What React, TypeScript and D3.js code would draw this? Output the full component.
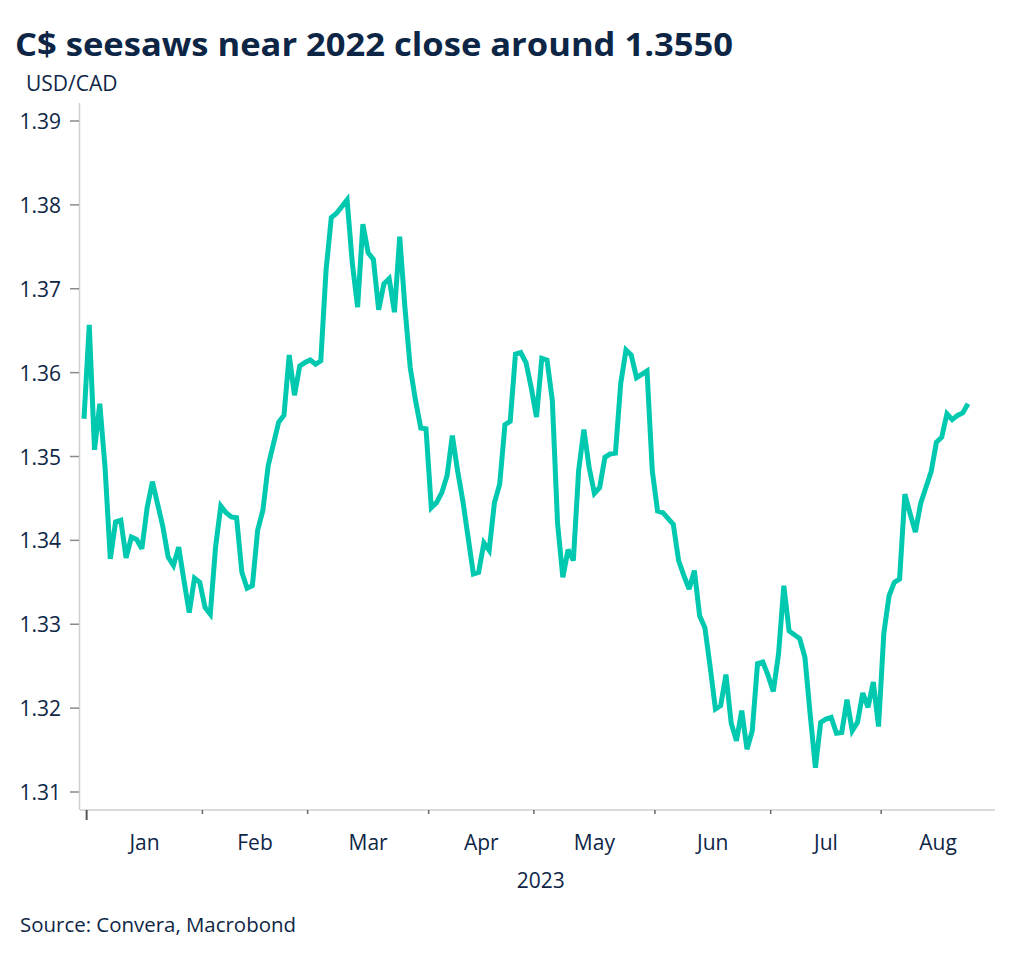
import React from "react";
import * as d3 from "d3";

// USD/CAD daily closes (business days), end-2022 through late August 2023
const obsDates: string[] = [
  "2022-12-30", "2023-01-02", "2023-01-03", "2023-01-04", "2023-01-05", "2023-01-06",
  "2023-01-09", "2023-01-10", "2023-01-11", "2023-01-12", "2023-01-13",
  "2023-01-16", "2023-01-17", "2023-01-18", "2023-01-20",
  "2023-01-23", "2023-01-24", "2023-01-25", "2023-01-26", "2023-01-27",
  "2023-01-30", "2023-01-31", "2023-02-01", "2023-02-02", "2023-02-03",
  "2023-02-06", "2023-02-07", "2023-02-08", "2023-02-09", "2023-02-10",
  "2023-02-13", "2023-02-14", "2023-02-15", "2023-02-16", "2023-02-17",
  "2023-02-20", "2023-02-21", "2023-02-22", "2023-02-23", "2023-02-24",
  "2023-02-27", "2023-02-28", "2023-03-01", "2023-03-02", "2023-03-03",
  "2023-03-06", "2023-03-07", "2023-03-08", "2023-03-10",
  "2023-03-13", "2023-03-14", "2023-03-15", "2023-03-16", "2023-03-17",
  "2023-03-20", "2023-03-21", "2023-03-22", "2023-03-23", "2023-03-24",
  "2023-03-27", "2023-03-28", "2023-03-29", "2023-03-30", "2023-03-31",
  "2023-04-03", "2023-04-04", "2023-04-05", "2023-04-06", "2023-04-07",
  "2023-04-10", "2023-04-11", "2023-04-13", "2023-04-14",
  "2023-04-17", "2023-04-18", "2023-04-19", "2023-04-20", "2023-04-21",
  "2023-04-24", "2023-04-25", "2023-04-26", "2023-04-27", "2023-04-28",
  "2023-05-01", "2023-05-02", "2023-05-03", "2023-05-04", "2023-05-05",
  "2023-05-08", "2023-05-09", "2023-05-10", "2023-05-11", "2023-05-12",
  "2023-05-15", "2023-05-16", "2023-05-17", "2023-05-18", "2023-05-19",
  "2023-05-22", "2023-05-23", "2023-05-24", "2023-05-25", "2023-05-26",
  "2023-05-29", "2023-05-30", "2023-05-31", "2023-06-01", "2023-06-02",
  "2023-06-06", "2023-06-07", "2023-06-08", "2023-06-09",
  "2023-06-12", "2023-06-13", "2023-06-14", "2023-06-15", "2023-06-16",
  "2023-06-19", "2023-06-20", "2023-06-21", "2023-06-22", "2023-06-23",
  "2023-06-26", "2023-06-27", "2023-06-28", "2023-06-29", "2023-06-30",
  "2023-07-03", "2023-07-04", "2023-07-05", "2023-07-06",
  "2023-07-10", "2023-07-11", "2023-07-12", "2023-07-13", "2023-07-14",
  "2023-07-17", "2023-07-18", "2023-07-19", "2023-07-20", "2023-07-21",
  "2023-07-24", "2023-07-25", "2023-07-26", "2023-07-27", "2023-07-28",
  "2023-07-31", "2023-08-01", "2023-08-02", "2023-08-03", "2023-08-04",
  "2023-08-07", "2023-08-08", "2023-08-09", "2023-08-10", "2023-08-11",
  "2023-08-14", "2023-08-15", "2023-08-16", "2023-08-17", "2023-08-18",
  "2023-08-21", "2023-08-22", "2023-08-23",
];

const usdcad: number[] = [
  1.3545, 1.3657, 1.3508, 1.3563, 1.3487, 1.3378,
  1.3422, 1.3424, 1.3379, 1.3404, 1.3401,
  1.3390, 1.3439, 1.3470, 1.3416,
  1.3380, 1.3370, 1.3392, 1.3352, 1.3314,
  1.3355, 1.3350, 1.3320, 1.3312, 1.3392,
  1.3441, 1.3433, 1.3428, 1.3427, 1.3362,
  1.3343, 1.3346, 1.3412, 1.3436, 1.3489,
  1.3515, 1.3541, 1.3549, 1.3621, 1.3573,
  1.3608, 1.3612, 1.3615, 1.3610, 1.3614,
  1.3722, 1.3785, 1.3790, 1.3806,
  1.3730, 1.3678, 1.3777, 1.3743, 1.3735,
  1.3675, 1.3706, 1.3712, 1.3672, 1.3762,
  1.3677, 1.3606, 1.3567, 1.3534, 1.3533,
  1.3439, 1.3445, 1.3457, 1.3477, 1.3525,
  1.3483, 1.3447, 1.3360, 1.3362,
  1.3397, 1.3388, 1.3445, 1.3467, 1.3538,
  1.3542, 1.3622, 1.3624, 1.3612, 1.3582,
  1.3547, 1.3617, 1.3615, 1.3567, 1.3420,
  1.3356, 1.3389, 1.3376, 1.3483, 1.3532,
  1.3487, 1.3456, 1.3463, 1.3499, 1.3503,
  1.3504, 1.3587, 1.3627, 1.3621, 1.3594,
  1.3598, 1.3602, 1.3483, 1.3435, 1.3433,
  1.3419, 1.3376, 1.3358, 1.3342,
  1.3364, 1.3310, 1.3296, 1.3249, 1.3199,
  1.3203, 1.3240, 1.3182, 1.3161, 1.3197,
  1.3151, 1.3173, 1.3253, 1.3255, 1.3239,
  1.3220, 1.3265, 1.3346, 1.3292,
  1.3283, 1.3261, 1.3193, 1.3129, 1.3183,
  1.3187, 1.3189, 1.3170, 1.3171, 1.3210,
  1.3173, 1.3183, 1.3218, 1.3201, 1.3231,
  1.3178, 1.3289, 1.3334, 1.3350, 1.3354,
  1.3455, 1.3432, 1.3410, 1.3444, 1.3463,
  1.3482, 1.3517, 1.3523, 1.3551, 1.3544,
  1.3549, 1.3552, 1.3563,
];

const yTicks: number[] = [1.31, 1.32, 1.33, 1.34, 1.35, 1.36, 1.37, 1.38, 1.39];
const monthLabels: string[] = ["Jan", "Feb", "Mar", "Apr", "May", "Jun", "Jul", "Aug"];
const yearLabel = "2023";
const titleText = "C$ seesaws near 2022 close around 1.3550";
const unitText = "USD/CAD";
const sourceText = "Source: Convera, Macrobond";

const WIDTH = 1024;
const HEIGHT = 958;
const FONT = "'Open Sans', 'Noto Sans', sans-serif";
const NAVY = "#0e2646";
const LINE = "#00c9b0";

const parseDay = (s: string) => {
  const [y, m, d] = s.split("-").map(Number);
  return new Date(Date.UTC(y, m - 1, d));
};
const dayKey = (d: Date) => d.toISOString().slice(0, 10);

// Weekday calendar spanning the series; the x axis counts trading days
const calStart = parseDay(obsDates[0]);
const calEnd = parseDay(obsDates[obsDates.length - 1]);
const calendar: Date[] = d3.utcDays(calStart, d3.utcDay.offset(calEnd, 1)).filter((d) => {
  const wd = d.getUTCDay();
  return wd !== 0 && wd !== 6;
});
const dayIndex = new Map<string, number>(calendar.map((d, i) => [dayKey(d), i]));

// First trading day of each calendar month of 2023
const monthStarts: number[] = [];
calendar.forEach((d, i) => {
  if (i > 0 && d.getUTCMonth() !== calendar[i - 1].getUTCMonth()) monthStarts.push(i);
});

const series = obsDates.map((s, i) => ({ idx: dayIndex.get(s) as number, value: usdcad[i] }));

export default function App() {
  const plotLeft = 80;
  const plotRight = 995;
  const axisY = 810;

  const x = d3.scaleLinear().domain([0, calendar.length - 1]).range([84, 968]);
  const y = d3.scaleLinear().domain([1.31, 1.39]).range([792, 121]);

  const path = d3
    .line<{ idx: number; value: number }>()
    .x((d) => x(d.idx))
    .y((d) => y(d.value))(series) as string;

  const tickX = monthStarts.map((i) => x(i - 0.5));
  const labelX = tickX.map((t, i) => (t + (i + 1 < tickX.length ? tickX[i + 1] : plotRight)) / 2);

  return (
    <svg
      width={WIDTH}
      height={HEIGHT}
      style={{ position: "absolute", left: 0, top: 0, background: "#fff" }}
      fontFamily={FONT}
    >
      <rect x={0} y={0} width={WIDTH} height={HEIGHT} fill="#fff" />
      <text x={15} y={56} fontSize={32} fontWeight={700} fill={NAVY} textLength={718} lengthAdjust="spacingAndGlyphs">
        {titleText}
      </text>
      <text x={26} y={91} fontSize={21} fill={NAVY}>
        {unitText}
      </text>

      {/* y axis */}
      <line x1={79.5} x2={79.5} y1={103} y2={axisY} stroke="#cfcfcf" strokeWidth={1.5} />
      {yTicks.map((t) => (
        <g key={t}>
          <line x1={70} x2={79} y1={y(t)} y2={y(t)} stroke="#8a8a8a" strokeWidth={1.5} />
          <text x={61} y={y(t)} fontSize={21} fill={NAVY} textAnchor="end" dominantBaseline="central">
            {t.toFixed(2)}
          </text>
        </g>
      ))}

      {/* x axis */}
      <line x1={plotLeft} x2={plotRight} y1={axisY} y2={axisY} stroke="#cfcfcf" strokeWidth={1.5} />
      {tickX.map((t, i) => (
        <line
          key={i}
          x1={t}
          x2={t}
          y1={axisY}
          y2={i === 0 ? axisY + 10 : axisY + 4}
          stroke={i === 0 ? "#555" : "#666"}
          strokeWidth={i === 0 ? 2 : 1.5}
        />
      ))}
      {monthLabels.map((m, i) => (
        <text key={m} x={labelX[i]} y={850} fontSize={21} fill={NAVY} textAnchor="middle">
          {m}
        </text>
      ))}
      <text x={(tickX[0] + plotRight) / 2} y={888} fontSize={21} fill={NAVY} textAnchor="middle">
        {yearLabel}
      </text>

      <path d={path} fill="none" stroke={LINE} strokeWidth={5} strokeLinejoin="miter" strokeMiterlimit={3} />

      <text x={20} y={932} fontSize={20} fill={NAVY} textLength={276} lengthAdjust="spacingAndGlyphs">
        {sourceText}
      </text>
    </svg>
  );
}
